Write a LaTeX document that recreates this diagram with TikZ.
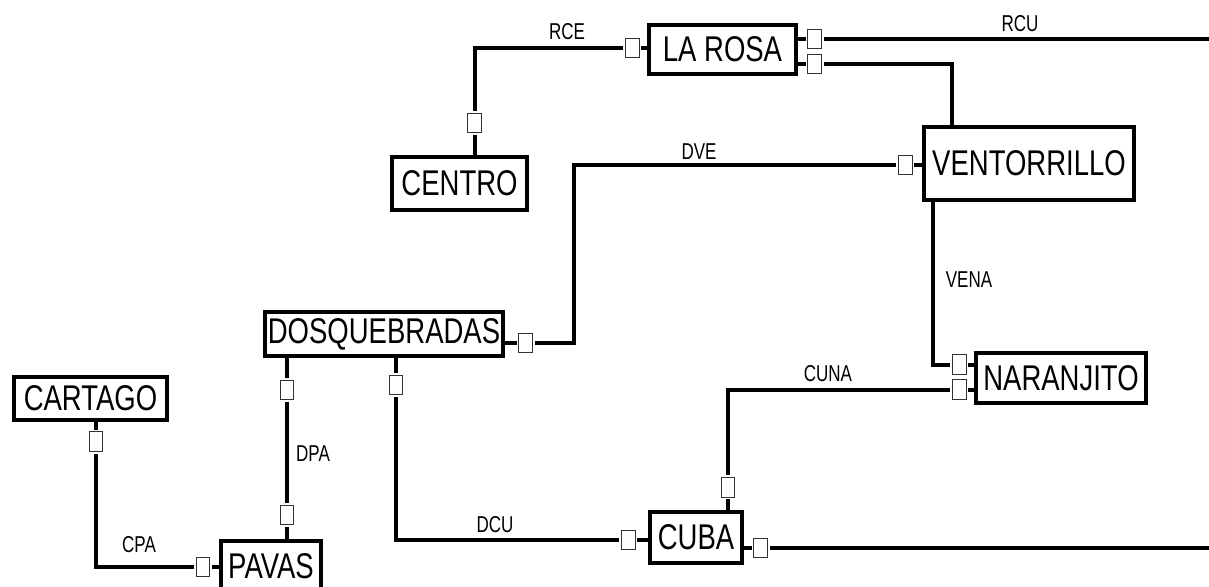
\documentclass[tikz,border=0pt]{standalone}
\usepackage{fontspec}
\setmainfont{Liberation Sans}
\usepackage{graphicx}
\newcommand\tallbig[1]{\scalebox{1}[1.3]{#1}}
\newcommand\talllab[1]{\scalebox{1}[1.35]{#1}}
\begin{document}
\begin{tikzpicture}[x=1pt,y=-1pt,
  box/.style={draw=black,line width=4pt,fill=white,inner sep=0pt,font=\fontsize{27.5}{30}\selectfont},
  port/.style={draw=black!80,line width=1.2pt,fill=white,minimum width=13.5pt,minimum height=19.5pt,inner sep=0pt},
  conn/.style={draw=black,line width=4pt},
  stub/.style={draw=black,line width=4pt,shorten <=1.5pt},
  lab/.style={font=\fontsize{17}{19}\selectfont,inner sep=0pt}]
\useasboundingbox[fill=white] (0,0) rectangle (1209,586);
% boxes
\node[box,minimum width=147pt,minimum height=49pt] (larosa) at (722.5,49.5) {\tallbig{LA ROSA}};
\node[box,minimum width=135pt,minimum height=53pt] (centro) at (459.5,183.5) {\tallbig{CENTRO}};
\node[box,minimum width=210pt,minimum height=73pt] (vent) at (1029,163.5) {\tallbig{VENTORRILLO}};
\node[box,minimum width=238pt,minimum height=44pt] (dosq) at (384,334) {\tallbig{DOSQUEBRADAS}};
\node[box,minimum width=153pt,minimum height=43pt] (cartago) at (90.5,398.5) {\tallbig{CARTAGO}};
\node[box,minimum width=170pt,minimum height=50pt] (naran) at (1061,378) {\tallbig{NARANJITO}};
\node[box,minimum width=92pt,minimum height=51pt] (cuba) at (696,537.5) {\tallbig{CUBA}};
\node[box,minimum width=100pt,minimum height=51pt] (pavas) at (271,566) {\tallbig{PAVAS}};
% ports
\node[port] (pLRw) at (632.5,48) {};
\node[port] (pLRe1) at (814.5,39) {};
\node[port] (pLRe2) at (814.5,64) {};
\node[port] (pCEn) at (474.5,123) {};
\node[port] (pVEw) at (905.5,165) {};
\node[port] (pDQe) at (525.5,343) {};
\node[port] (pDQs1) at (287,390) {};
\node[port] (pDQs2) at (396,385) {};
\node[port] (pPAn) at (287,515) {};
\node[port] (pCAs) at (96,441.5) {};
\node[port] (pPAw) at (203,567) {};
\node[port] (pCUw) at (628.5,540) {};
\node[port] (pCUn) at (728,487.5) {};
\node[port] (pCUe) at (760.5,548) {};
\node[port] (pNAw1) at (959.5,364.5) {};
\node[port] (pNAw2) at (959.5,389.5) {};
% stubs port-box
\draw[stub] (pCEn.south) -- (pCEn |- centro.north);
\draw[stub] (pLRw.east) -- (pLRw -| larosa.west);
\draw[stub] (pLRe1.west) -- (pLRe1 -| larosa.east);
\draw[stub] (pLRe2.west) -- (pLRe2 -| larosa.east);
\draw[stub] (pVEw.east) -- (pVEw -| vent.west);
\draw[stub] (pDQe.west) -- (pDQe -| dosq.east);
\draw[stub] (pDQs1.north) -- (pDQs1 |- dosq.south);
\draw[stub] (pDQs2.north) -- (pDQs2 |- dosq.south);
\draw[stub] (pPAn.south) -- (pPAn |- pavas.north);
\draw[stub] (pCAs.north) -- (pCAs |- cartago.south);
\draw[stub] (pPAw.east) -- (pPAw -| pavas.west);
\draw[stub] (pCUw.east) -- (pCUw -| cuba.west);
\draw[stub] (pCUn.south) -- (pCUn |- cuba.north);
\draw[stub] (pCUe.west) -- (pCUe -| cuba.east);
\draw[stub] (pNAw1.east) -- (pNAw1 -| naran.west);
\draw[stub] (pNAw2.east) -- (pNAw2 -| naran.west);
% connectors
\coordinate (eRCU) at (1212,39);
\coordinate (eCU) at (1212,548);
\coordinate (kDVE) at (574,250);
\draw[conn,shorten <=2pt,shorten >=2pt] (pCEn.north) |- (pLRw.west);
\draw[conn,shorten <=2pt] (pLRe1.east) -- (eRCU);
\draw[conn,shorten <=2pt] (pLRe2.east) -| ([xshift=30pt]vent.north west);
\draw[conn,shorten <=2pt,shorten >=2pt] (pVEw.west) -| (kDVE) |- (pDQe.east);
\draw[conn,shorten >=2pt] ([xshift=11pt]vent.south west) |- (pNAw1.west);
\draw[conn,shorten <=2pt,shorten >=2pt] (pNAw2.west) -| (pCUn.north);
\draw[conn,shorten <=2pt] (pCUe.east) -- (eCU);
\draw[conn,shorten <=2pt,shorten >=2pt] (pDQs2.south) |- (pCUw.west);
\draw[conn,shorten <=2pt,shorten >=2pt] (pDQs1.south) -- (pPAn.north);
\draw[conn,shorten <=2pt,shorten >=2pt] (pCAs.south) |- (pPAw.west);
% labels
\node[lab] (lRCE) at (567,32) {\talllab{RCE}};
\node[lab] (lRCU) at (1020,24) {\talllab{RCU}};
\node[lab] (lDVE) at (699,152) {\talllab{DVE}};
\node[lab] (lVENA) at (969,280) {\talllab{VENA}};
\node[lab] (lCUNA) at (828,374) {\talllab{CUNA}};
\node[lab] (lDCU) at (495,525) {\talllab{DCU}};
\node[lab] (lDPA) at (313,454) {\talllab{DPA}};
\node[lab] (lCPA) at (139,545) {\talllab{CPA}};
\end{tikzpicture}
\end{document}
